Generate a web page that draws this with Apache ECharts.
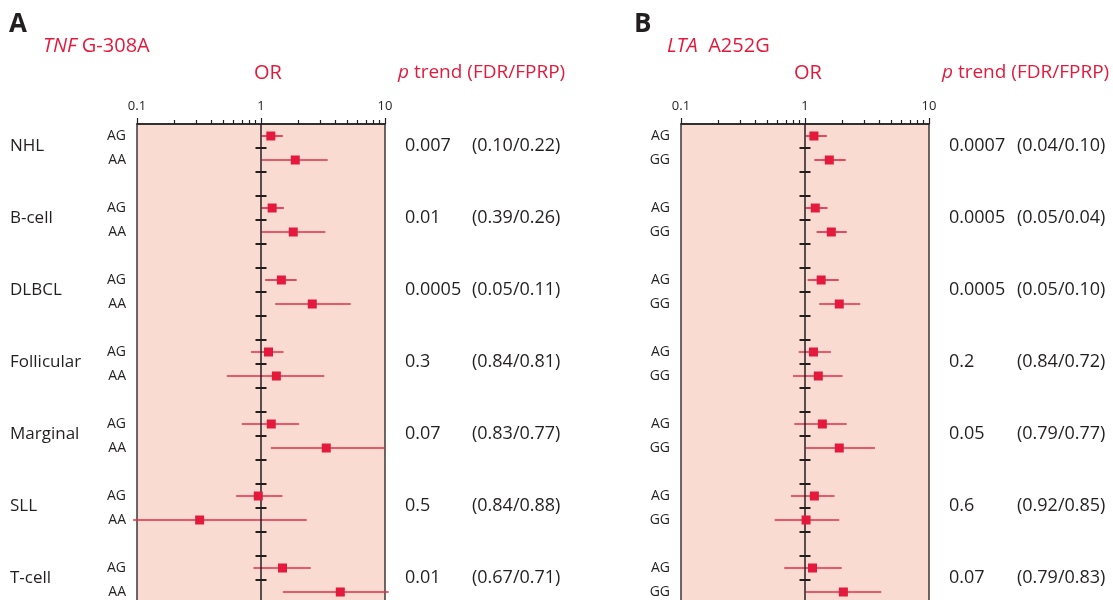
<!DOCTYPE html>
<html>
<head>
<meta charset="utf-8">
<script src="https://cdn.jsdelivr.net/npm/echarts@6/dist/echarts.min.js"></script>
<style>
    html, body { margin: 0; padding: 0; background: #fff; }
    #chart { width: 1113px; height: 600px; }
</style>
</head>
<body>
<div id="chart"></div>
<script>
// subtypes, top to bottom
const groups = ['NHL', 'B-cell', 'DLBCL', 'Follicular', 'Marginal', 'SLL', 'T-cell']

// TNF G-308A: two genotype rows per subtype (AG, AA)
const tnfGeno = ['AG', 'AA']
const tnfOR   = [1.20, 1.89, 1.23, 1.82, 1.46, 2.59, 1.15, 1.33, 1.21, 3.36, 0.95, 0.32, 1.49, 4.36]
const tnfLow  = [1.01, 1.01, 1.01, 1.01, 1.08, 1.30, 0.83, 0.53, 0.70, 1.20, 0.63, 0.093, 0.87, 1.50]
const tnfHigh = [1.50, 3.45, 1.53, 3.30, 1.94, 5.29, 1.52, 3.24, 2.03, 10.0, 1.49, 2.34, 2.52, 10.7]
const tnfP    = ['0.007', '0.01', '0.0005', '0.3', '0.07', '0.5', '0.01']
const tnfFdr  = ['(0.10/0.22)', '(0.39/0.26)', '(0.05/0.11)', '(0.84/0.81)', '(0.83/0.77)', '(0.84/0.88)', '(0.67/0.71)']

// LTA A252G: (AG, GG)
const ltaGeno = ['AG', 'GG']
const ltaOR   = [1.18, 1.57, 1.21, 1.63, 1.35, 1.89, 1.17, 1.28, 1.38, 1.89, 1.19, 1.02, 1.15, 2.04]
const ltaLow  = [1.01, 1.19, 1.01, 1.24, 1.05, 1.30, 0.89, 0.80, 0.82, 1.01, 0.77, 0.57, 0.68, 1.01]
const ltaHigh = [1.50, 2.13, 1.52, 2.17, 1.87, 2.79, 1.62, 2.01, 2.17, 3.67, 1.73, 1.89, 1.98, 4.12]
const ltaP    = ['0.0007', '0.0005', '0.0005', '0.2', '0.05', '0.6', '0.07']
const ltaFdr  = ['(0.04/0.10)', '(0.05/0.04)', '(0.05/0.10)', '(0.84/0.72)', '(0.79/0.77)', '(0.92/0.85)', '(0.79/0.83)']

const majorTicks = [0.1, 1, 10]
const minorTicks = [0.2, 0.3, 0.4, 0.5, 0.6, 0.7, 0.8, 0.9, 2, 3, 4, 5, 6, 7, 8, 9]

// layout
const TOP = 124
const ROW = 24
const PLOT_H = 478          // runs past the bottom of the page, like the cropped original
const SLOTS = groups.length * 3
const RED = '#e31a3c'
const BAR = '#e52c48'
const INK = '#231f20'
const FONT = '"Open Sans", sans-serif'

const chart = echarts.init(document.getElementById('chart'))

// row i -> slot on the y axis (each subtype takes 2 rows + 1 empty slot)
const slotOf = i => Math.floor(i / 2) * 3 + (i % 2)

const grids = []
const xAxes = []
const yAxes = []
const series = []
const graphics = []

function addPanel(idx, left, geno, or, low, high) {
    grids.push({
        left: left, top: TOP, width: 248, height: PLOT_H,
        outerBoundsMode: 'none',
        show: true, backgroundColor: '#f9dbd2',
        borderColor: '#3a3a3a', borderWidth: 1.5
    })
    xAxes.push({
        type: 'log', logBase: 10, gridIndex: idx, position: 'top',
        min: 0.1, max: 10,
        axisLine: { show: true, onZero: false, lineStyle: { color: INK, width: 1.5 } },
        axisTick: { show: true, length: 6, customValues: majorTicks, lineStyle: { color: INK, width: 1.2 } },
        axisLabel: {
            customValues: majorTicks, color: INK, fontSize: 13, fontFamily: FONT, margin: 11,
            formatter: v => String(+(+v).toPrecision(3))
        },
        splitLine: { show: false }
    })
    xAxes.push({
        type: 'log', logBase: 10, gridIndex: idx, position: 'top',
        min: 0.1, max: 10,
        axisLine: { show: false, onZero: false },
        axisTick: { show: true, length: 4, customValues: minorTicks, lineStyle: { color: INK, width: 1.2 } },
        axisLabel: { show: false },
        splitLine: { show: false }
    })
    let rowSlots = []
    for (let k = 0; k < SLOTS; k++) {
        if (k % 3 < 2) rowSlots.push(k)
    }
    yAxes.push({
        type: 'value', gridIndex: idx, inverse: true,
        min: -0.5, max: -0.5 + PLOT_H / ROW,
        axisLine: { show: false, onZero: false }, axisTick: { show: false },
        axisLabel: {
            customValues: rowSlots, color: INK, fontSize: 14, fontFamily: FONT, margin: 11,
            formatter: v => geno[Math.round(v) % 3]
        },
        splitLine: { show: false }
    })

    const xi = idx * 2
    // vertical line at OR = 1 with its little crossing ticks between rows
    let tickData = []
    for (let k = 0; k < SLOTS - 1; k++) tickData.push([1, k + 0.5])
    series.push({
        type: 'scatter', xAxisIndex: xi, yAxisIndex: idx,
        data: tickData, symbol: 'rect', symbolSize: [11, 2],
        itemStyle: { color: INK, opacity: 1 }, clip: false, silent: true, z: 2,
        markLine: {
            silent: true, symbol: 'none', label: { show: false },
            lineStyle: { color: INK, width: 1.5, type: 'solid' },
            data: [{ xAxis: 1 }]
        }
    })
    // confidence intervals
    series.push({
        type: 'custom', xAxisIndex: xi, yAxisIndex: idx, z: 3,
        data: or.map((v, i) => [low[i], high[i], slotOf(i)]),
        encode: { x: [0, 1], y: 2 },
        renderItem: (params, api) => {
            const a = api.coord([api.value(0), api.value(2)])
            const b = api.coord([api.value(1), api.value(2)])
            return {
                type: 'line',
                shape: { x1: a[0], y1: a[1], x2: b[0], y2: b[1] },
                style: { stroke: BAR, lineWidth: 1.7 }
            }
        }
    })
    // point estimates
    series.push({
        type: 'scatter', xAxisIndex: xi, yAxisIndex: idx, z: 5,
        data: or.map((v, i) => [v, slotOf(i)]),
        symbol: 'rect', symbolSize: 9,
        itemStyle: { color: RED, opacity: 1 }
    })
}

function text(x, y, str, size, color, extra) {
    graphics.push({
        type: 'text', x: x, y: y,
        style: Object.assign({
            text: str, fill: color, fontSize: size, fontFamily: FONT,
            textVerticalAlign: 'middle', verticalAlign: 'middle'
        }, extra || {})
    })
}

function richText(x, y, str, size) {
    graphics.push({
        type: 'text', x: x, y: y,
        style: {
            text: str, fill: RED, fontSize: size, fontFamily: FONT,
            textVerticalAlign: 'middle', verticalAlign: 'middle',
            rich: {
                i: { fontStyle: 'italic', fontSize: size, fontFamily: FONT, fill: RED },
                n: { fontSize: size, fontFamily: FONT, fill: RED }
            }
        }
    })
}

function addLabels(letter, letterX, title, titleX, orX, pX, colX, pVals, fdrVals, showGroups) {
    text(letterX, 25, letter, 26, INK, { fontWeight: 'bold' })
    richText(titleX, 46, title, 20)
    text(orX, 73, 'OR', 20, RED, { textAlign: 'center', align: 'center' })
    richText(pX, 73, '{i|p}{n| trend (FDR/FPRP)}', 19)
    groups.forEach((g, k) => {
        const y = TOP + ROW * (3 * k + 1) - 2
        if (showGroups) text(10, y, g, 17, INK)
        text(colX[0], y, pVals[k], 18, INK)
        text(colX[1], y, fdrVals[k], 18, INK)
    })
}

addPanel(0, 137, tnfGeno, tnfOR, tnfLow, tnfHigh)
addPanel(1, 681, ltaGeno, ltaOR, ltaLow, ltaHigh)

addLabels('A', 9, '{i|TNF}{n| G-308A}', 43, 268, 398, [405, 472], tnfP, tnfFdr, true)
addLabels('B', 634, '{i|LTA}{n|  A252G}', 667, 808, 942, [949, 1017], ltaP, ltaFdr, false)

chart.setOption({
    animation: false,
    grid: grids,
    xAxis: xAxes,
    yAxis: yAxes,
    series: series,
    graphic: graphics
})
</script>
</body>
</html>
